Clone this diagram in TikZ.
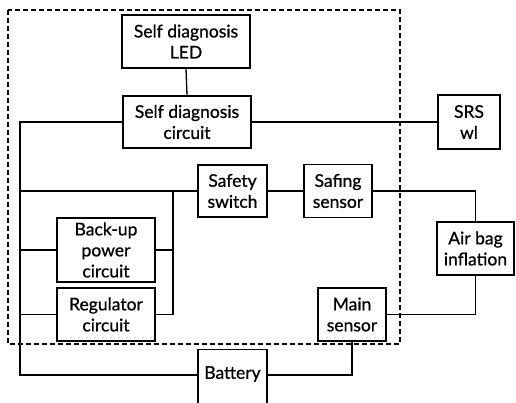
\documentclass[tikz,border=0pt]{standalone}
\usepackage{fontspec}
\setmainfont{Lato}
\newfontfamily\lbl[FakeBold=0.8]{Lato}
\begin{document}
\begin{tikzpicture}[x=1pt,y=1pt,
  box/.style={draw,line width=1.3pt,align=center,inner sep=0pt,font=\lbl\fontsize{17.5}{21}\selectfont},
  wire/.style={line width=1.3pt},
  frame/.style={line width=1.1pt,dash pattern=on 5pt off 3pt}]
\useasboundingbox (0,0) rectangle (516,402);
\begin{scope}
\clip (0,0) rectangle (516,402);
\draw[frame] (8,392) rectangle (400,58);
\node[box,minimum width=128pt,minimum height=53pt] (led) at (186,360.5) {Self diagnosis\\LED};
\node[box,minimum width=128pt,minimum height=52pt] (diag) at (187,280) {Self diagnosis\\circuit};
\node[box,minimum width=62pt,minimum height=54pt] (srs) at (469,280) {SRS\\wl};
\node[box,minimum width=69pt,minimum height=52pt] (safety) at (232.5,211) {Safety\\switch};
\node[box,minimum width=68pt,minimum height=53pt] (safing) at (338,211) {Safing\\sensor};
\node[box,minimum width=77pt,minimum height=53pt] (airbag) at (475.5,153.5) {Air bag\\inflation};
\node[box,minimum width=98pt,minimum height=64pt] (backup) at (106,152) {Back-up\\power\\circuit};
\node[box,minimum width=98pt,minimum height=53pt] (reg) at (106,87.5) {Regulator\\circuit};
\node[box,minimum width=68pt,minimum height=53pt] (main) at (352,87.5) {Main\\sensor};
\node[box,minimum width=69pt,minimum height=70pt,anchor=north] (bat) at (232.5,53) {};
\node[font=\lbl\fontsize{17.5}{21}\selectfont,inner sep=0pt] (battxt) at (232.5,28) {Battery};
\coordinate (lb) at (20,27);
\coordinate (busT) at (173,211);
\draw[wire] (led.south) -- (diag.north);
\draw[wire] (diag.east) -- (srs.west);
\draw[wire] (diag.west) -| (lb) -- (bat.west |- lb);
\draw[wire] (safety.west) -- (safety.west -| lb);
\draw[wire] (backup.west) -- (backup.west -| lb);
\draw[wire] (reg.west) -- (reg.west -| lb);
\draw[wire] (reg.east) -| (busT);
\draw[wire] (backup.east) -- (backup.east -| busT);
\draw[wire] (safety.east) -- (safing.west);
\draw[wire] (safing.east) -| (airbag.north);
\draw[wire] (airbag.south) |- (main.east);
\draw[wire] (main.south) |- (bat.east |- lb);
\end{scope}
\end{tikzpicture}
\end{document}
